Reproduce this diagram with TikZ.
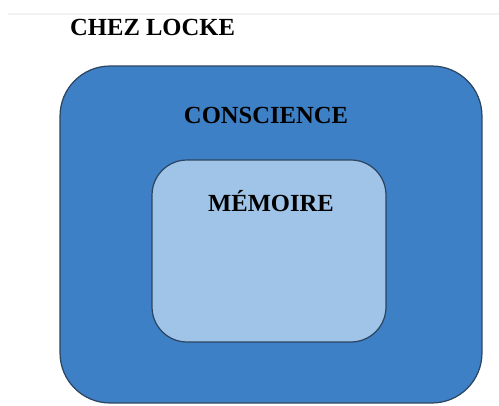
\documentclass[tikz,border=0pt]{standalone}
\usepackage{fontspec}
\setmainfont{Liberation Serif}
\definecolor{outerblue}{HTML}{3D80C6}
\definecolor{innerblue}{HTML}{9FC4E7}
\definecolor{edgeblue}{HTML}{2C4560}
\begin{document}
\begin{tikzpicture}[x=0.02cm,y=-0.02cm,font=\bfseries\fontsize{14}{16}\selectfont,line join=round]
	\tikzset{box/.style={draw=edgeblue,line width=0.7pt,anchor=center}}
	\useasboundingbox (0,0) rectangle (499,405);
	\draw[black!5,line width=1pt] (8,14) -- (499,14);
	\node[anchor=west] (titre) at (64,27.5) {CHEZ LOCKE};
	\node[box,fill=outerblue,rounded corners=1cm,minimum width=8.44cm,minimum height=6.74cm] (conscience) at (271,234.5) {};
	\node[box,fill=innerblue,rounded corners=0.7cm,minimum width=4.68cm,minimum height=3.64cm] (memoire) at (269,251) {};
	\node (lconscience) at (266,115.5) {CONSCIENCE};
	\node (lmemoire) at (271,201.5) {MÉMOIRE};
\end{tikzpicture}
\end{document}
